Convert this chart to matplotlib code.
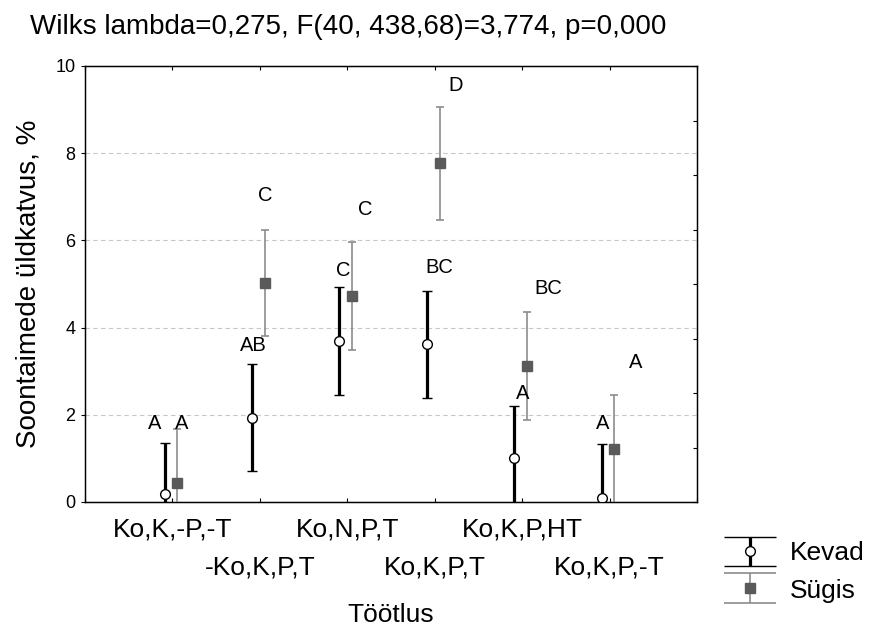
import matplotlib
matplotlib.use("Agg")
import matplotlib.pyplot as plt

plt.rcParams['font.family'] = ['Liberation Sans', 'DejaVu Sans']

# data
treatments = ["Ko,K,-P,-T", "-Ko,K,P,T", "Ko,N,P,T", "Ko,K,P,T", "Ko,K,P,HT", "Ko,K,P,-T"]
kevad_mean = [0.18, 1.93, 3.69, 3.62, 1.00, 0.09]
kevad_err = [1.18, 1.23, 1.24, 1.23, 1.21, 1.24]
sygis_mean = [0.44, 5.02, 4.72, 7.77, 3.12, 1.22]
sygis_err = [1.24, 1.22, 1.24, 1.30, 1.24, 1.24]

# significance letters and where they sit
letters = ["A", "A", "AB", "C", "C", "C", "BC", "D", "A", "BC", "A", "A"]
letter_x = [0.80, 1.10, 1.93, 2.06, 2.95, 3.20, 4.05, 4.24, 5.00, 5.30, 5.92, 6.30]
letter_y = [1.79, 1.81, 3.58, 7.02, 5.32, 6.72, 5.37, 9.56, 2.48, 4.90, 1.79, 3.20]

title = "Wilks lambda=0,275, F(40, 438,68)=3,774, p=0,000"

fig = plt.figure(figsize=(8.76, 6.28), dpi=100)
ax = fig.add_axes([85/876, 1-502/628, 612/876, 436/628])

pos = list(range(1, len(treatments) + 1))
xk = [p - 0.09 for p in pos]
xs = [p + 0.055 for p in pos]

ax.errorbar(xk, kevad_mean, yerr=kevad_err, fmt='o', color='black', ecolor='black',
            elinewidth=2.3, capsize=3.8, capthick=2.3, markersize=7,
            markerfacecolor='white', markeredgecolor='black', markeredgewidth=1, zorder=3)
ax.errorbar(xs, sygis_mean, yerr=sygis_err, fmt='s', color='#5a5a5a', ecolor='#8c8c8c',
            elinewidth=1.2, capsize=3.2, capthick=1.2, markersize=7,
            markerfacecolor='#5a5a5a', markeredgecolor='#5a5a5a', zorder=3)

for t, x, y in zip(letters, letter_x, letter_y):
    ax.text(x, y, t, ha='center', va='center', fontsize=14.5)

ax.set_xlim(0, 7)
ax.set_ylim(0, 10)
ax.set_xticks(range(0, 8))
ax.set_xticklabels([])
ax.set_yticks(range(0, 11, 2))
ax.tick_params(axis='y', labelsize=13, length=3, direction='out', pad=4)
ax.tick_params(axis='x', top=True, direction='in', length=3)
ax.yaxis.grid(True, linestyle=(0, (4, 3)), color='#c8c8c8', linewidth=0.8)
ax.set_axisbelow(True)
for s in ax.spines.values():
    s.set_linewidth(1)

rax = ax.twinx()
rax.set_ylim(0, 10)
rax.set_yticks([i * 1.25 for i in range(9)])
rax.set_yticklabels([])
rax.tick_params(axis='y', direction='in', length=3)

# staggered category labels
for i, (p, lab) in enumerate(zip(pos, treatments)):
    yy = -35/436 if i % 2 == 0 else -73/436
    ax.text(p, yy, lab, transform=ax.get_xaxis_transform(), ha='center', va='baseline', fontsize=19)

ax.set_ylabel("Soontaimede üldkatvus, %", fontsize=20, labelpad=10)
fig.text(391/876, 1-622/628, "Töötlus", ha='center', va='baseline', fontsize=19)
fig.text(30/876, 1-34/628, title, ha='left', va='baseline', fontsize=20)

# legend drawn in its own small axes
lax = fig.add_axes([715/876, 1-612/628, 70/876, 82/628])
lax.set_xlim(0, 1)
lax.set_ylim(0, 1)
lax.axis('off')
lax.errorbar([0.5], [0.74], yerr=[0.18], fmt='o', color='black', ecolor='black',
             elinewidth=2.3, capsize=19, capthick=2.3, markersize=7,
             markerfacecolor='white', markeredgecolor='black', markeredgewidth=1)
lax.errorbar([0.5], [0.29], yerr=[0.18], fmt='s', color='#5a5a5a', ecolor='#8c8c8c',
             elinewidth=1.2, capsize=19, capthick=1.2, markersize=7)
fig.text(790/876, 1-560/628, "Kevad", ha='left', va='baseline', fontsize=19)
fig.text(790/876, 1-598/628, "Sügis", ha='left', va='baseline', fontsize=19)

fig.savefig("out.png", dpi=100)
